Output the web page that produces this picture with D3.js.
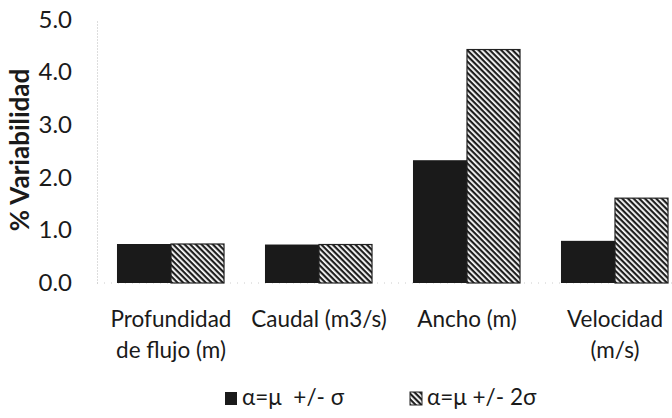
<!DOCTYPE html>
<html>
<head>
<meta charset="utf-8">
<script src="https://cdn.jsdelivr.net/npm/d3@7"></script>
<style>
  body { margin: 0; background: #fff; }
  svg { display: block; font-family: Lato, "Open Sans", sans-serif; }
</style>
</head>
<body>
<div id="chart"></div>
<script>
// chart values
var categories = ["Profundidad de flujo (m)", "Caudal (m3/s)", "Ancho (m)", "Velocidad (m/s)"];
var categoryLines = [["Profundidad", "de flujo (m)"], ["Caudal (m3/s)"], ["Ancho (m)"], ["Velocidad", "(m/s)"]];
var seriesNames = ["α=μ  +/- σ", "α=μ +/- 2σ"];
var sigma1 = [0.74, 0.73, 2.33, 0.80];
var sigma2 = [0.74, 0.73, 4.43, 1.61];
var yTicks = [0, 1, 2, 3, 4, 5];

var width = 672, height = 418;

var svg = d3.select("#chart").append("svg")
    .attr("width", width)
    .attr("height", height);

// diagonal hatch for the 2 sigma series
var defs = svg.append("defs");
var hatch = defs.append("pattern")
    .attr("id", "hatch")
    .attr("patternUnits", "userSpaceOnUse")
    .attr("width", 4)
    .attr("height", 4)
    .attr("patternTransform", "rotate(45)");
hatch.append("rect").attr("width", 4).attr("height", 4).attr("fill", "#fff");
hatch.append("rect").attr("width", 4).attr("height", 2.2).attr("fill", "#1e1e1e");

var x = d3.scaleBand()
    .domain(categories)
    .range([97, 689])
    .paddingInner(0.27)
    .paddingOuter(0.135);

var xs = d3.scaleBand()
    .domain([0, 1])
    .range([0, x.bandwidth()]);

var y = d3.scaleLinear()
    .domain([0, 5])
    .range([283, 19.5]);

// y axis: faint dotted line, labels only
var yAxis = svg.append("g")
    .attr("transform", "translate(97,0)")
    .call(d3.axisLeft(y).tickValues(yTicks).tickFormat(d3.format(".1f")).tickSize(0).tickPadding(25));
yAxis.select(".domain")
    .attr("stroke", "#bbb")
    .attr("stroke-dasharray", "1,2");
yAxis.selectAll("text")
    .attr("font-size", 24)
    .attr("fill", "#1a1a1a")
    .attr("font-family", "Lato, sans-serif");

// baseline
svg.append("line")
    .attr("x1", 97).attr("x2", width)
    .attr("y1", y(0)).attr("y2", y(0))
    .attr("stroke", "#ccc")
    .attr("stroke-dasharray", "1,6");

var groups = svg.selectAll("g.cat")
    .data(categories)
    .enter().append("g")
    .attr("class", "cat")
    .attr("transform", function (d) { return "translate(" + x(d) + ",0)"; });

groups.append("rect")
    .attr("x", xs(0))
    .attr("width", xs.bandwidth())
    .attr("y", function (d, i) { return y(sigma1[i]); })
    .attr("height", function (d, i) { return y(0) - y(sigma1[i]); })
    .attr("fill", "#1a1a1a");

groups.append("rect")
    .attr("x", xs(1))
    .attr("width", xs.bandwidth() - 1)
    .attr("y", function (d, i) { return y(sigma2[i]); })
    .attr("height", function (d, i) { return y(0) - y(sigma2[i]); })
    .attr("fill", "url(#hatch)")
    .attr("stroke", "#222")
    .attr("stroke-width", 1.2);

// category labels
groups.each(function (d, i) {
    var t = d3.select(this).append("text")
        .attr("x", x.bandwidth() / 2)
        .attr("y", 327)
        .attr("text-anchor", "middle")
        .attr("font-size", 22.5)
        .attr("fill", "#1a1a1a");
    categoryLines[i].forEach(function (line, k) {
        t.append("tspan")
            .attr("x", x.bandwidth() / 2)
            .attr("dy", k === 0 ? 0 : 31)
            .text(line);
    });
});

// y title
svg.append("text")
    .attr("transform", "translate(29,150) rotate(-90)")
    .attr("text-anchor", "middle")
    .attr("font-size", 26)
    .attr("font-weight", "bold")
    .attr("fill", "#1a1a1a")
    .text("% Variabilidad");

// legend
var legendX = [225, 410];
var legend = svg.selectAll("g.leg")
    .data(seriesNames)
    .enter().append("g")
    .attr("class", "leg")
    .attr("transform", function (d, i) { return "translate(" + legendX[i] + ",392)"; });

legend.append("rect")
    .attr("width", 12)
    .attr("height", 13)
    .attr("fill", function (d, i) { return i === 0 ? "#1a1a1a" : "url(#hatch)"; })
    .attr("stroke", function (d, i) { return i === 0 ? "none" : "#222"; });

legend.append("text")
    .attr("x", 17)
    .attr("y", 13)
    .attr("font-size", 22.5)
    .attr("fill", "#1a1a1a")
    .attr("xml:space", "preserve")
    .style("white-space", "pre")
    .text(function (d) { return d; });
</script>
</body>
</html>
